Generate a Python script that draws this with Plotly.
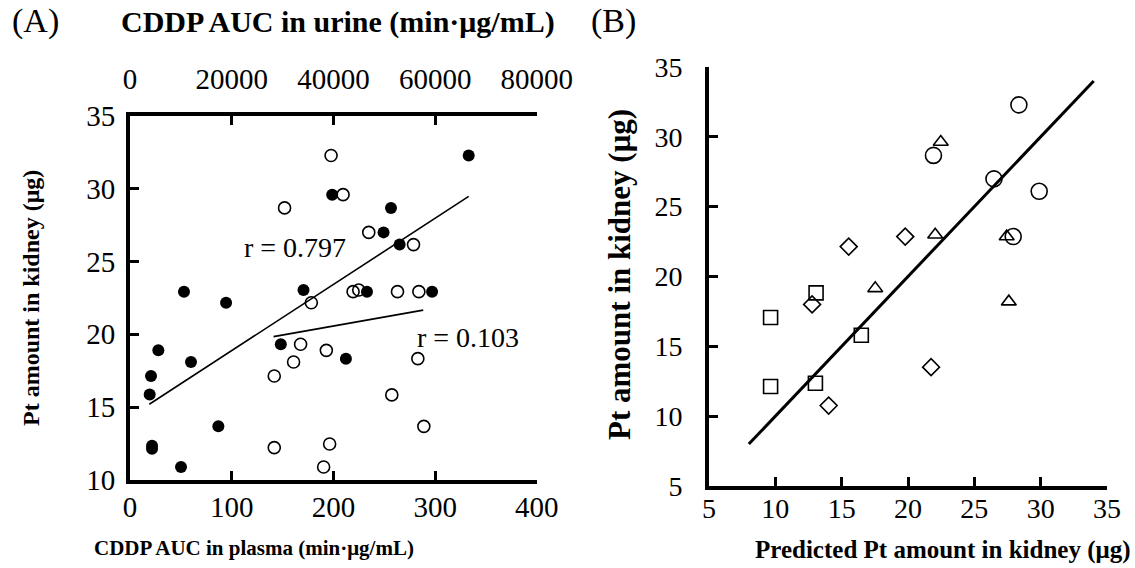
import plotly.graph_objects as go

# Panel A: filled circles -> plasma AUC (bottom axis)
plasma_auc = [198.8, 53.1, 170.6, 256.6, 249.3, 265.1, 233.0, 297.0, 94.5, 27.9,
              60.0, 20.7, 19.4, 148.3, 212.3, 86.9, 21.7, 21.7, 50.2, 333.0]
pt_plasma = [29.59, 22.93, 23.04, 28.68, 27.0, 26.16, 22.93, 22.93, 22.17, 18.9,
             18.1, 17.14, 15.87, 19.32, 18.33, 13.68, 12.35, 12.15, 10.89, 32.28]
# Panel A: open circles -> urine AUC (top axis)
urine_auc = [39540, 41900, 30400, 46950, 55750, 35660, 43870, 44980, 52600, 56800,
             33550, 32170, 38610, 28370, 56600, 51480, 57780, 28370, 39260, 38080]
pt_urine = [32.28, 29.59, 28.68, 27.0, 26.16, 22.17, 22.93, 23.04, 22.93, 22.93,
            19.32, 18.1, 18.9, 17.14, 18.33, 15.84, 13.68, 12.22, 12.47, 10.89]
# regression lines
fit_plasma_x = [19, 333]
fit_plasma_y = [15.2, 29.47]
fit_urine_x = [28230, 57660]
fit_urine_y = [19.84, 21.66]

# Panel B: predicted vs observed
circ_pred = [28.36, 21.92, 26.48, 29.89, 27.93]
circ_obs = [32.29, 28.67, 26.99, 26.10, 22.86]
tri_pred = [22.47, 17.53, 22.05, 27.44, 27.60]
tri_obs = [29.63, 19.15, 22.99, 22.86, 18.20]
dia_pred = [15.53, 19.79, 12.77, 14.02, 21.74]
dia_obs = [22.14, 22.86, 18.00, 10.76, 13.51]
sq_pred = [13.07, 9.64, 16.48, 9.64, 13.02]
sq_obs = [18.83, 17.06, 15.79, 12.12, 12.36]
identity = [8, 34]

FONT = "Liberation Serif"
fig = go.Figure()

fig.add_trace(go.Scatter(x=fit_plasma_x, y=fit_plasma_y, mode="lines",
                         line=dict(color="black", width=1.6), xaxis="x", yaxis="y"))
fig.add_trace(go.Scatter(x=fit_urine_x, y=fit_urine_y, mode="lines",
                         line=dict(color="black", width=1.6), xaxis="x2", yaxis="y"))
fig.add_trace(go.Scatter(x=plasma_auc, y=pt_plasma, mode="markers",
                         marker=dict(symbol="circle", size=12, color="black"),
                         xaxis="x", yaxis="y"))
fig.add_trace(go.Scatter(x=urine_auc, y=pt_urine, mode="markers",
                         marker=dict(symbol="circle-open", size=12, color="black",
                                     line=dict(width=1.6, color="black")),
                         xaxis="x2", yaxis="y"))

fig.add_trace(go.Scatter(x=identity, y=identity, mode="lines",
                         line=dict(color="black", width=3), xaxis="x3", yaxis="y3"))
for px, py, sym, sz in [(circ_pred, circ_obs, "circle-open", 16),
                        (tri_pred, tri_obs, "triangle-up-open", 13),
                        (dia_pred, dia_obs, "diamond-open", 13),
                        (sq_pred, sq_obs, "square-open", 14)]:
    fig.add_trace(go.Scatter(x=px, y=py, mode="markers",
                             marker=dict(symbol=sym, size=sz, color="black",
                                         line=dict(width=1.6, color="black")),
                             xaxis="x3", yaxis="y3"))


def ax(size, standoff, **kw):
    d = dict(showline=True, linewidth=4, linecolor="black", ticks="inside",
             ticklen=9, tickwidth=3, tickcolor="black", showgrid=False,
             zeroline=False, automargin=False, ticklabelstandoff=standoff,
             tickfont=dict(family=FONT, size=size, color="black"))
    d.update(kw)
    return d


fig.update_layout(
    template="none",
    width=1135, height=568, margin=dict(l=0, r=0, t=0, b=0, pad=0),
    paper_bgcolor="white", plot_bgcolor="white", showlegend=False,
    font=dict(family=FONT, color="black"),
    xaxis=ax(29, -2, domain=[0.1145, 0.473], range=[0, 400], dtick=100, anchor="y"),
    xaxis2=ax(29, 11, range=[0, 80000], dtick=20000, overlaying="x", side="top",
              anchor="y", tickformat="d"),
    yaxis=ax(29, 5, domain=[0.155, 0.796], range=[10, 35], dtick=5, anchor="x"),
    xaxis3=ax(28, -6, domain=[0.6247, 0.9753], range=[5, 35], dtick=5, anchor="y3"),
    yaxis3=ax(28, 17, domain=[0.1444, 0.882], range=[5, 35], dtick=5, anchor="x3"),
)

ann = [
    ("<b>CDDP AUC in plasma (min·μg/mL)</b>", 254, 548, 21, 0),
    ("<b>CDDP AUC in urine (min·μg/mL)</b>", 338, 22, 30, 0),
    ("<b>Predicted Pt amount in kidney (μg)</b>", 943, 550, 25, 0),
    ("<b>Pt amount in kidney (μg)</b>", 31, 298, 24, -90),
    ("<b>Pt amount in kidney (μg)</b>", 619, 275, 31, -90),
]
for text, x, y, size, ang in ann:
    fig.add_annotation(xref="paper", yref="paper", x=x / 1135, y=1 - y / 568,
                       text=text, showarrow=False,
                       font=dict(family=FONT, size=size, color="black"),
                       textangle=ang, xanchor="center", yanchor="middle")
for t, x, y in [("(A)", 35, 21), ("(B)", 613, 21)]:
    fig.add_annotation(xref="paper", yref="paper", x=x / 1135, y=1 - y / 568, text=t,
                       showarrow=False, font=dict(family=FONT, size=34, color="black"),
                       xanchor="center", yanchor="middle")
for t, x, y in [("r = 0.797", 295, 248), ("r = 0.103", 468, 337)]:
    fig.add_annotation(xref="paper", yref="paper", x=x / 1135, y=1 - y / 568, text=t,
                       showarrow=False, font=dict(family=FONT, size=28, color="black"),
                       xanchor="center", yanchor="middle")

fig.write_html("out.html")
